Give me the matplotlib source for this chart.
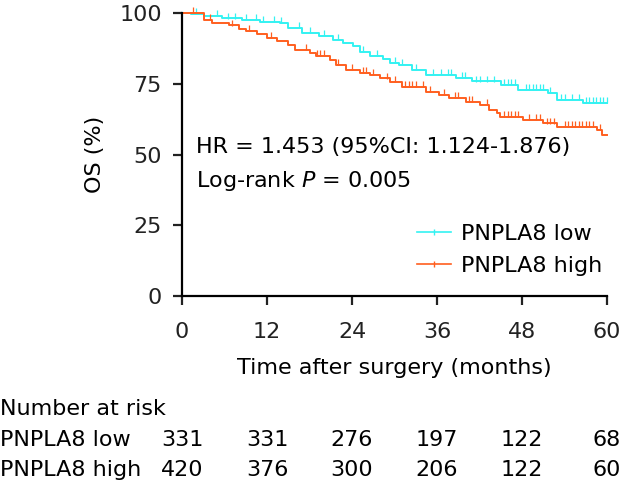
"""
Kaplan-Meier style overall survival plot, PNPLA8 low vs high, with number at risk table.
"""
import numpy as np
import matplotlib
matplotlib.use("Agg")
import matplotlib.pyplot as plt
from matplotlib.lines import Line2D
from matplotlib.transforms import blended_transform_factory

# step curves: (time in months, survival in %)
low_t = [0, 1.2, 3.1, 5.7, 8.5, 11.0, 13.9, 14.9, 17.0, 19.4, 21.3, 22.7, 24.1, 25.1,
         26.6, 28.4, 29.4, 30.6, 32.4, 34.4, 38.7, 41.0, 45.1, 47.4, 51.7, 53.0, 56.6]
low_s = [100, 99.6, 99.0, 98.1, 97.6, 97.0, 96.4, 94.8, 93.0, 91.8, 90.6, 89.4, 88.2, 86.4,
         84.8, 83.6, 82.4, 81.6, 80.0, 78.2, 77.0, 75.8, 74.6, 72.9, 71.7, 69.4, 68.2]
high_t = [0, 3.1, 4.3, 6.7, 8.1, 9.1, 10.6, 12.0, 13.4, 14.9, 16.0, 18.0, 18.9, 20.9, 21.7,
          23.1, 25.1, 26.6, 28.0, 29.4, 31.0, 34.4, 36.3, 37.7, 40.1, 42.0, 43.4, 44.4,
          44.9, 48.2, 51.0, 53.0, 58.6, 59.3]
high_s = [100, 97.6, 96.5, 95.6, 94.4, 93.6, 92.6, 91.2, 90.1, 88.7, 87.0, 85.9, 84.8, 83.4,
          81.6, 79.9, 78.9, 78.1, 76.9, 75.7, 74.0, 72.2, 71.0, 69.9, 68.7, 67.5, 65.7, 64.7,
          63.4, 62.2, 61.0, 59.8, 58.7, 56.9]

# censoring times (tick marks)
low_cens = [2.0, 5.0, 6.5, 7.5, 9.0, 10.5, 11.5, 13.0, 14.0, 16.5, 18.0, 20.0, 22.0, 25.5,
            27.5, 30.0, 31.0, 33.0, 35.5, 36.5, 37.5, 38.0, 39.5, 40.0, 41.5, 42.0, 43.0,
            44.0, 45.5, 46.0, 46.5, 47.0, 48.5, 49.0, 49.5, 50.0, 50.5, 51.0, 52.0, 53.5,
            54.0, 55.0, 56.0, 57.0, 57.5, 58.0, 58.5, 59.0, 59.5, 60.0]
high_cens = [1.5, 4.0, 7.0, 9.5, 12.5, 17.5, 19.0, 19.5, 20.0, 22.0, 24.0, 25.5, 26.0, 27.0,
             29.0, 30.0, 31.5, 32.0, 32.5, 33.0, 34.0, 35.0, 37.0, 38.5, 39.0, 40.5, 41.0,
             43.0, 45.5, 46.0, 46.5, 47.0, 47.5, 49.0, 50.0, 50.5, 51.5, 52.0, 52.5, 54.0,
             54.5, 55.0, 55.5, 56.0, 56.5, 57.0, 57.5, 58.0, 59.0]

risk_times = [0, 12, 24, 36, 48, 60]
risk_low = [331, 331, 276, 197, 122, 68]
risk_high = [420, 376, 300, 206, 122, 60]

c_low = "#33f2f2"
c_high = "#ff5f1f"
fs = 16


def draw_curve(ax, t, s, cens, color):
    t = np.append(t, 60)
    s = np.append(s, s[-1])
    ax.step(t, s, where="post", color=color, lw=1.4, clip_on=False)
    idx = np.searchsorted(t, cens, side="right") - 1
    ax.plot(cens, s[idx] + 1.0, ls="none", marker="|", ms=5, mew=0.9,
            color=color, clip_on=False)


def main():
    plt.rcParams["font.family"] = "DejaVu Sans"
    fig = plt.figure(figsize=(6.36, 4.93), dpi=100)
    ax = fig.add_axes([0.2862, 0.3996, 0.6682, 0.574])

    draw_curve(ax, low_t, low_s, low_cens, c_low)
    draw_curve(ax, high_t, high_s, high_cens, c_high)

    ax.set_xlim(0, 60)
    ax.set_ylim(0, 100)
    ax.set_xticks(risk_times)
    ax.set_yticks([0, 25, 50, 75, 100])
    for sp in ["top", "right"]:
        ax.spines[sp].set_visible(False)
    for sp in ["left", "bottom"]:
        ax.spines[sp].set_linewidth(1.6)
    ax.tick_params(length=6.5, width=1.6, labelsize=fs, colors="#222222")
    ax.tick_params(axis="x", pad=12)
    ax.tick_params(axis="y", pad=8)
    ax.set_xlabel("Time after surgery (months)", fontsize=fs, labelpad=12)
    ax.set_ylabel("OS (%)", fontsize=fs, labelpad=10)

    ax.text(2, 52.5, "HR = 1.453 (95%CI: 1.124-1.876)", fontsize=fs, va="center")
    ax.text(2, 40.5, "Log-rank $\\it{P}$ = 0.005", fontsize=fs, va="center")

    handles = [Line2D([], [], color=c_low, marker="|", ms=5, lw=1.2),
               Line2D([], [], color=c_high, marker="|", ms=5, lw=1.2)]
    ax.legend(handles, ["PNPLA8 low", "PNPLA8 high"], loc="lower right",
              bbox_to_anchor=(1.035, 0.0), frameon=False, fontsize=fs,
              numpoints=1, handlelength=1.5, handletextpad=0.45, labelspacing=0.55)

    # number at risk table
    fig.text(0.0, 1 - 409 / 493, "Number at risk", fontsize=fs, va="center")
    fig.text(0.0, 1 - 440 / 493, "PNPLA8 low", fontsize=fs, va="center")
    fig.text(0.0, 1 - 470 / 493, "PNPLA8 high", fontsize=fs, va="center")
    tr = blended_transform_factory(ax.transData, fig.transFigure)
    for x, a, b in zip(risk_times, risk_low, risk_high):
        ax.text(x, 1 - 440 / 493, str(a), transform=tr, ha="center", va="center", fontsize=fs)
        ax.text(x, 1 - 470 / 493, str(b), transform=tr, ha="center", va="center", fontsize=fs)

    fig.savefig("out.png", dpi=100)


if __name__ == "__main__":
    main()
